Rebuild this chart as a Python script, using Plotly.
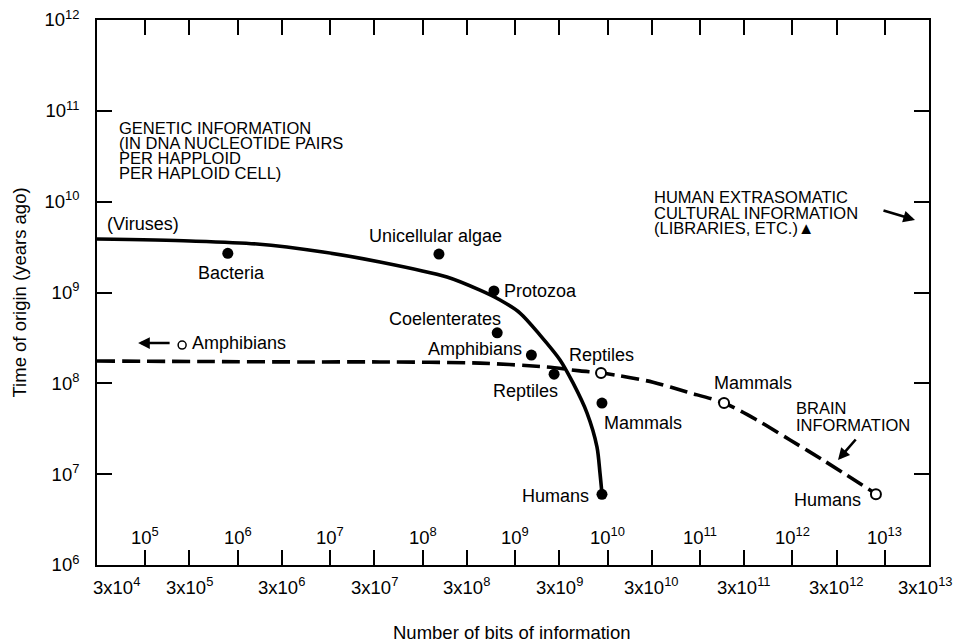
import math
import plotly.graph_objects as go

# ---------------- data ----------------
# Genetic information curve (solid)
gen_curve_x = [3.0e4, 3.04e5, 1.61e6, 8.36e6, 3.45e7, 1.83e8, 4.17e8, 6.87e8,
               1.13e9, 1.86e9, 3.06e9, 4.23e9, 6.0e9, 7.69e9, 8.28e9, 8.71e9]
gen_curve_y = [3.88e9, 3.69e9, 3.42e9, 2.79e9, 2.17e9, 1.48e9, 1.06e9, 8.26e8,
               5.94e8, 3.40e8, 1.81e8, 1.01e8, 4.71e7, 1.99e7, 1.03e7, 6.04e6]

# Genetic points (filled)
gen_names = ["Bacteria", "Unicellular algae", "Protozoa", "Coelenterates",
             "Amphibians", "Reptiles", "Mammals", "Humans"]
gen_x = [7.8e5, 1.5e8, 5.9e8, 6.4e8, 1.5e9, 2.64e9, 8.7e9, 8.7e9]
gen_y = [2.7e9, 2.65e9, 1.04e9, 3.6e8, 2.05e8, 1.26e8, 6.07e7, 6.0e6]

# Brain information curve (dashed)
brain_curve_x = [3.0e4, 3.9e5, 4.71e6, 3.45e7, 4.17e8, 2.21e9, 5.04e9, 8.49e9,
                 1.36e10, 3.10e10, 7.24e10, 1.82e11, 4.14e11, 9.42e11, 2.14e12, 8.02e12]
brain_curve_y = [1.76e8, 1.74e8, 1.72e8, 1.72e8, 1.67e8, 1.51e8, 1.37e8, 1.30e8,
                 1.21e8, 1.03e8, 8.02e7, 6.07e7, 3.94e7, 2.38e7, 1.43e7, 6.04e6]

# Brain points (open)
brain_names = ["Reptiles", "Mammals", "Humans"]
brain_x = [8.5e9, 1.82e11, 8.0e12]
brain_y = [1.3e8, 6.07e7, 6.0e6]

# Off-scale amphibian brain marker
amph_brain_x = [2.5e5]
amph_brain_y = [2.64e8]

# Axis ticks / labels
x_tick_vals = [3e4, 1e5, 3e5, 1e6, 3e6, 1e7, 3e7, 1e8, 3e8, 1e9, 3e9, 1e10,
               3e10, 1e11, 3e11, 1e12, 3e12, 1e13, 3e13]
x_bits_vals = [3e4, 3e5, 3e6, 3e7, 3e8, 3e9, 3e10, 3e11, 3e12, 3e13]
x_bits_text = ["3x10<sup>%d</sup>" % k for k in range(4, 14)]
x_pairs_vals = [1e5, 1e6, 1e7, 1e8, 1e9, 1e10, 1e11, 1e12, 1e13]
x_pairs_text = ["10<sup>%d</sup>" % k for k in range(5, 14)]
y_tick_vals = [1e6, 1e7, 1e8, 1e9, 1e10, 1e11, 1e12]
y_tick_text = ["10<sup>%d</sup>" % k for k in range(6, 13)]

FONT = "Liberation Sans, Arial, Helvetica, sans-serif"
LBL = 18
CAPS = 16.5
TICK = 18.5
TITLE = 18.5

# plot-area geometry in window pixels
PX0, PX1, PY0, PY1 = 97, 929, 20, 565
W, H = 959, 642


def px2paper_x(px):
    return (px - PX0) / float(PX1 - PX0)


def py2paper_y(py):
    return (PY1 - py) / float(PY1 - PY0)


# label placement (anchor, xshift, yshift) — layout only
gen_lbl_pos = [("center", 4, -20), ("center", -3, 18), ("left", 8, 0),
               ("center", -52, 14), ("right", -7, 6), ("center", -29, -17),
               ("center", 41, -20), ("right", -11, -2)]
brain_lbl_pos = [("center", 0, 18), ("center", 29, 20), ("center", -48, -6)]

fig = go.Figure()

fig.add_trace(go.Scatter(x=gen_curve_x, y=gen_curve_y, mode="lines",
                         line=dict(color="black", width=3.6, shape="spline", smoothing=0.8),
                         hoverinfo="skip", showlegend=False))
fig.add_trace(go.Scatter(x=brain_curve_x, y=brain_curve_y, mode="lines",
                         line=dict(color="black", width=3.6, dash="18px,7px",
                                   shape="spline", smoothing=0.8),
                         hoverinfo="skip", showlegend=False))
fig.add_trace(go.Scatter(x=gen_x, y=gen_y, mode="markers",
                         marker=dict(color="black", size=11),
                         showlegend=False))
fig.add_trace(go.Scatter(x=brain_x, y=brain_y, mode="markers",
                         marker=dict(color="white", size=10,
                                     line=dict(color="black", width=2)),
                         showlegend=False))
fig.add_trace(go.Scatter(x=amph_brain_x, y=amph_brain_y, mode="markers",
                         marker=dict(color="white", size=8,
                                     line=dict(color="black", width=1.5)),
                         showlegend=False))

ann = []
for n, x, y, (anc, dx, dy) in zip(gen_names, gen_x, gen_y, gen_lbl_pos):
    ann.append(dict(x=math.log10(x), y=math.log10(y), text=n, showarrow=False,
                    xanchor=anc, yanchor="middle", xshift=dx, yshift=dy,
                    font=dict(size=LBL, color="black", family=FONT)))
for n, x, y, (anc, dx, dy) in zip(brain_names, brain_x, brain_y, brain_lbl_pos):
    ann.append(dict(x=math.log10(x), y=math.log10(y), text=n, showarrow=False,
                    xanchor=anc, yanchor="middle", xshift=dx, yshift=dy,
                    font=dict(size=LBL, color="black", family=FONT)))
# off-scale amphibians
ann.append(dict(x=math.log10(amph_brain_x[0]), y=math.log10(amph_brain_y[0]),
                text="Amphibians", showarrow=False, xanchor="left", yanchor="middle",
                xshift=8, yshift=2, font=dict(size=LBL, color="black", family=FONT)))
ann.append(dict(x=math.log10(amph_brain_x[0]), y=math.log10(amph_brain_y[0]),
                xshift=-44, yshift=2, text="", showarrow=True, ax=33, ay=0,
                arrowhead=2, arrowsize=0.9, arrowwidth=2.6, arrowcolor="black"))
# (Viruses)
ann.append(dict(x=math.log10(gen_curve_x[0]), y=math.log10(gen_curve_y[0]),
                text="(Viruses)", showarrow=False, xanchor="left", yanchor="middle",
                xshift=8, yshift=15, font=dict(size=LBL, color="black", family=FONT)))


# block texts (one annotation per line)
def block(lines, xpx, ypx0, step):
    for i, t in enumerate(lines):
        ann.append(dict(xref="paper", yref="paper",
                        x=px2paper_x(xpx), y=py2paper_y(ypx0 + i * step),
                        text=t, showarrow=False, xanchor="left", yanchor="middle",
                        font=dict(size=CAPS, color="black", family=FONT)))


block(["GENETIC INFORMATION", "(IN DNA NUCLEOTIDE PAIRS", "PER HAPPLOID",
       "PER HAPLOID CELL)"], 117, 128, 15)
block(["HUMAN EXTRASOMATIC", "CULTURAL INFORMATION", "(LIBRARIES, ETC.)\u25B2"],
      652, 197, 15.5)
block(["BRAIN", "INFORMATION"], 794, 408, 17)

# arrows
ann.append(dict(xref="paper", yref="paper", x=px2paper_x(915), y=py2paper_y(220),
                text="", showarrow=True, ax=-33, ay=-10, arrowhead=2, arrowsize=0.9,
                arrowwidth=2.6, arrowcolor="black"))
ann.append(dict(xref="paper", yref="paper", x=px2paper_x(838), y=py2paper_y(460),
                text="", showarrow=True, ax=19, ay=-22, arrowhead=2, arrowsize=0.9,
                arrowwidth=2.6, arrowcolor="black"))

# bottom bit labels
for i, (v, t) in enumerate(zip(x_bits_vals, x_bits_text)):
    ann.append(dict(x=math.log10(v), xref="x", yref="paper", y=0, yanchor="top",
                    yshift=-7, xshift=(19 if i == 0 else (-4 if i == len(x_bits_vals) - 1 else 0)),
                    text=t, showarrow=False, xanchor="center",
                    font=dict(size=TICK, color="black", family=FONT)))
# inner nucleotide-pair labels
for v, t in zip(x_pairs_vals, x_pairs_text):
    ann.append(dict(x=math.log10(v), xref="x", yref="paper", y=0, yanchor="bottom",
                    yshift=15, text=t, showarrow=False, xanchor="center",
                    font=dict(size=TICK, color="black", family=FONT)))
# axis titles
ann.append(dict(xref="paper", yref="paper", x=px2paper_x(512), y=py2paper_y(632),
                text="Number of bits of information", showarrow=False,
                xanchor="center", yanchor="middle",
                font=dict(size=TITLE, color="black", family=FONT)))
ann.append(dict(xref="paper", yref="paper", x=px2paper_x(19), y=0.5,
                text="Time of origin (years ago)", showarrow=False, textangle=-90,
                xanchor="center", yanchor="middle",
                font=dict(size=TITLE, color="black", family=FONT)))

fig.update_layout(
    width=W, height=H,
    margin=dict(l=PX0, r=W - PX1, t=PY0, b=H - PY1, autoexpand=False),
    paper_bgcolor="white", plot_bgcolor="white",
    font=dict(family=FONT, color="black"),
    annotations=ann,
    showlegend=False,
)
fig.update_xaxes(type="log", range=[math.log10(3e4), math.log10(3e13)],
                 tickvals=x_tick_vals, ticktext=[""] * len(x_tick_vals),
                 ticks="inside", ticklen=15, tickwidth=1.5, tickcolor="black",
                 showline=True, linewidth=1.8, linecolor="black", mirror="ticks",
                 showgrid=False, zeroline=False, automargin=False)
fig.update_yaxes(type="log", range=[6, 12],
                 tickvals=y_tick_vals, ticktext=y_tick_text,
                 ticks="inside", ticklen=15, tickwidth=1.5, tickcolor="black",
                 tickfont=dict(size=TICK, color="black", family=FONT),
                 ticklabelstandoff=12,
                 showline=True, linewidth=1.8, linecolor="black", mirror="ticks",
                 showgrid=False, zeroline=False, automargin=False)

fig.write_html("out.html", config={"displayModeBar": False},
               post_script="document.body.style.margin='0px';document.body.style.overflow='hidden';")
